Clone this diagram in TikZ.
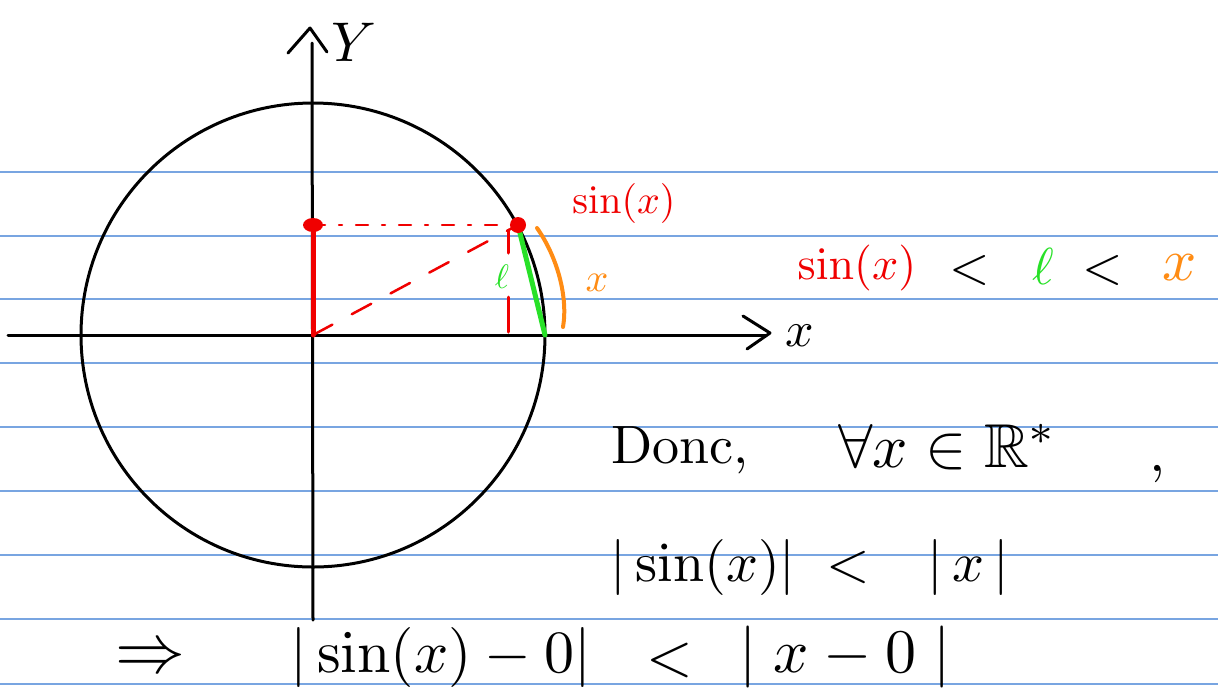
\documentclass[tikz,border=0pt]{standalone}
\usepackage{amssymb}
\definecolor{rule}{RGB}{120,165,225}
\definecolor{hred}{RGB}{240,0,0}
\definecolor{hgreen}{RGB}{40,225,40}
\definecolor{horange}{RGB}{255,140,20}
\begin{document}
\begin{tikzpicture}[x=1pt,y=-1pt,line cap=round,line join=round,
  ruled/.style={draw=rule,line width=1.6pt},
  ink/.style={draw=black,line width=3pt},
  lbl/.style={inner sep=0pt,anchor=center,font=\fontsize{10}{12}\selectfont},
  sz/.style={lbl,scale=#1/10,transform shape}]
\useasboundingbox (0,0) rectangle (1218,694);
\fill[white] (0,0) rectangle (1218,694);
\foreach \yy in {172,236,299,363,427,491,555,619,684}
  \draw[ruled] (0,\yy) -- (1218,\yy);

% key points
\coordinate (O) at (313,335);
\coordinate (P) at (518,225);
\coordinate (S) at (313,225);
\coordinate (A) at (545,335);

% circle and axes
\draw[ink] (O) circle (232pt);
\coordinate (xl) at (8,335);
\coordinate (xr) at (766,335);
\draw[ink] (xl) -- (xr);
\coordinate (xa1) at (743,316);
\coordinate (xa2) at (770,333);
\coordinate (xa3) at (747,349);
\draw[ink] (xa1) -- (xa2) -- (xa3);
\coordinate (yb) at (313,620);
\coordinate (yt) at (312,43);
\draw[ink] (yb) -- (yt);
\coordinate (ya1) at (288,53);
\coordinate (ya2) at (310,28);
\coordinate (ya3) at (327,52);
\draw[ink] (ya1) -- (ya2) -- (ya3);
\node[sz=50] (xlab) at (800,336) {$x$};
\node[sz=56] (ylab) at (354,42) {$Y$};

% red construction
\draw[hred,line width=5pt] (O) -- (S);
\draw[hred,line width=2.5pt,dash pattern=on 12pt off 14pt on 3pt off 14pt] (S) -- (P);
\draw[hred,line width=2.5pt,dash pattern=on 22pt off 22pt] (O) -- (P);
\fill[hred] (S) ellipse (10pt and 7pt);
\coordinate (r1) at (508,230);
\coordinate (r2) at (508,253);
\coordinate (r3) at (508,297);
\coordinate (r4) at (508,332);
\draw[hred,line width=3pt] (r1) -- (r2) (r3) -- (r4);
\node[sz=40,text=hred] (sinlab) at (624,203) {$\sin(x)$};

% chord and arc
\draw[hgreen,line width=5pt] (P) -- (A);
\fill[hred] (P) circle (8pt);
\node[sz=34,text=hgreen] (ell) at (502,277) {$\ell$};
\coordinate (o1) at (537,228);
\coordinate (o2) at (563,327);
\draw[horange,line width=4pt] (o1) .. controls (558,258) and (568,298) .. (o2);
\node[sz=40,text=horange] (xo) at (597,283) {$x$};

% inequality
\node[sz=46,text=hred] (f1) at (857,268) {$\sin(x)$};
\node[sz=52] (f2) at (970,270) {$<$};
\node[sz=52,text=hgreen] (f3) at (1043,266) {$\ell$};
\node[sz=52] (f4) at (1103,270) {$<$};
\node[sz=60,text=horange] (f5) at (1180,268) {$x$};

% Donc
\node[sz=54] (donc) at (680,450) {Donc,};
\node[sz=62] (forall) at (948,447) {$\forall x\in\mathbb{R}^{*}$};
\node[sz=58] (comma) at (1158,474) {,};

% |sin x| < |x|
\node[sz=56] (g1) at (703,567) {$|\sin(x)|$};
\node[sz=56] (g2) at (848,567) {$<$};
\node[sz=56] (g3) at (968,567) {$|\,x\,|$};

% final line
\node[sz=70] (h0) at (150,660) {$\Rightarrow$};
\node[sz=60] (h1) at (441,657) {$|\sin(x)-0|$};
\node[sz=60] (h2) at (670,660) {$<$};
\node[sz=62] (h3) at (845,657) {$|\;x-0\;|$};
\end{tikzpicture}
\end{document}
